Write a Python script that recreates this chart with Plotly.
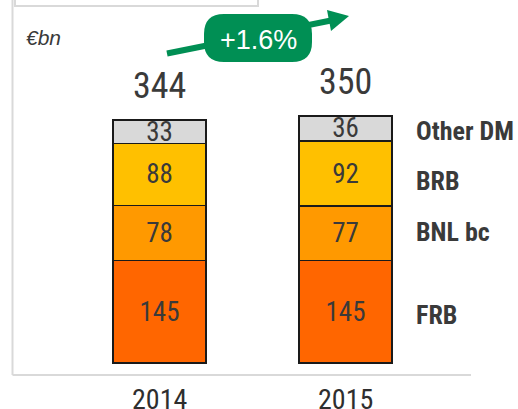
import plotly.graph_objects as go

years = ["2014", "2015"]
series = ["FRB", "BNL bc", "BRB", "Other DM"]
frb = [145, 145]
bnl = [78, 77]
brb = [88, 92]
other = [33, 36]
totals = [344, 350]
growth_label = "+1.6%"
unit_label = "€bn"

values = [frb, bnl, brb, other]
colors = ["#FF6600", "#FF9900", "#FFC000", "#D9D9D9"]

W, H = 518, 409
NARROW = "Liberation Sans Narrow, Arial Narrow, Roboto Condensed, sans-serif"
TXT = "#3A3A3A"


def px(x):
    return x / W


def py(y):
    return 1 - y / H


xpos = list(range(len(years)))

fig = go.Figure()
for name, vals, col in zip(series, values, colors):
    fig.add_trace(go.Bar(
        x=xpos, y=vals, name=name, width=0.5,
        marker=dict(color=col, line=dict(color="#1a1a1a", width=1.5)),
        text=[str(v) for v in vals], textposition="inside",
        insidetextanchor="middle", textangle=0, constraintext="none",
        textfont=dict(family=NARROW, size=27, color=TXT),
        hoverinfo="skip",
    ))

ann = []
# totals
for i, t in zip(xpos, totals):
    ann.append(dict(x=i, y=t, xref="x", yref="y", text=str(t), showarrow=False,
                    yanchor="bottom", yshift=11,
                    font=dict(family=NARROW, size=36, color=TXT)))
# year labels
for i, yr in zip(xpos, years):
    ann.append(dict(x=i, y=0, xref="x", yref="y", text=yr, showarrow=False,
                    yanchor="top", yshift=-18,
                    font=dict(family=NARROW, size=28, color="#2E2E2E")))
# series labels on the right (aligned to 2015 segments)
shifts = [-3, 1, -7, -2.5]
cum = 0
for name, vals, s in zip(series, values, shifts):
    mid = cum + vals[1] / 2
    cum += vals[1]
    ann.append(dict(x=px(414), y=mid, xref="paper", yref="y", text=f"<b>{name}</b>",
                    showarrow=False, xanchor="left", yanchor="middle", yshift=s,
                    font=dict(family=NARROW, size=26, color=TXT)))
# unit
ann.append(dict(x=px(24), y=py(38), xref="paper", yref="paper", text=f"<i>{unit_label}</i>",
                showarrow=False, xanchor="left", yanchor="middle",
                font=dict(family="Liberation Sans, Arial, sans-serif", size=21, color=TXT)))
# growth label
ann.append(dict(x=px(258), y=py(40), xref="paper", yref="paper", text=growth_label,
                showarrow=False, xanchor="center", yanchor="middle",
                font=dict(family="Liberation Sans, Arial, sans-serif", size=27, color="white")))

GREEN = "#008F54"
# pill path
x0, x1, y0, y1, r = 204, 312, 14, 62, 20
pill = (f"M {px(x0 + r)},{py(y0)} L {px(x1 - r)},{py(y0)} "
        f"Q {px(x1)},{py(y0)} {px(x1)},{py(y0 + r)} L {px(x1)},{py(y1 - r)} "
        f"Q {px(x1)},{py(y1)} {px(x1 - r)},{py(y1)} L {px(x0 + r)},{py(y1)} "
        f"Q {px(x0)},{py(y1)} {px(x0)},{py(y1 - r)} L {px(x0)},{py(y0 + r)} "
        f"Q {px(x0)},{py(y0)} {px(x0 + r)},{py(y0)} Z")
tri = f"M {px(349)},{py(16)} L {px(327)},{py(10)} L {px(331)},{py(31)} Z"

shapes = [
    # top box
    dict(type="rect", xref="paper", yref="paper", x0=px(15), x1=px(258), y0=py(6), y1=py(-5),
         line=dict(color="#D9D9D9", width=2), fillcolor="white", layer="below"),
    # left line
    dict(type="line", xref="paper", yref="paper", x0=px(12.5), x1=px(12.5), y0=py(0), y1=py(375),
         line=dict(color="#D9D9D9", width=2), layer="below"),
    # bottom line
    dict(type="line", xref="paper", yref="paper", x0=px(12.5), x1=px(471), y0=py(375), y1=py(375),
         line=dict(color="#D9D9D9", width=2), layer="below"),
    # arrow shaft
    dict(type="line", xref="paper", yref="paper", x0=px(167), y0=py(53.5), x1=px(331), y1=py(20.5),
         line=dict(color=GREEN, width=6)),
    dict(type="path", xref="paper", yref="paper", path=tri, fillcolor=GREEN, line=dict(width=0)),
    dict(type="path", xref="paper", yref="paper", path=pill, fillcolor=GREEN, line=dict(width=0)),
]

k = 243 / 344  # px per unit
fig.update_layout(
    barmode="stack", width=W, height=H, margin=dict(l=0, r=0, t=0, b=0),
    paper_bgcolor="white", plot_bgcolor="white", showlegend=False,
    xaxis=dict(range=[-159.5 / 186, (W - 159.5) / 186], visible=False),
    yaxis=dict(range=[-(H - 363) / k, 363 / k], visible=False),
    annotations=ann, shapes=shapes,
)
fig.write_html("out.html", config={"displayModeBar": False, "staticPlot": True})

with open("out.html", encoding="utf-8") as f:
    html = f.read()
html = html.replace("<head>", "<head><style>html,body{margin:0;padding:0;overflow:hidden;}</style>", 1)
with open("out.html", "w", encoding="utf-8") as f:
    f.write(html)
